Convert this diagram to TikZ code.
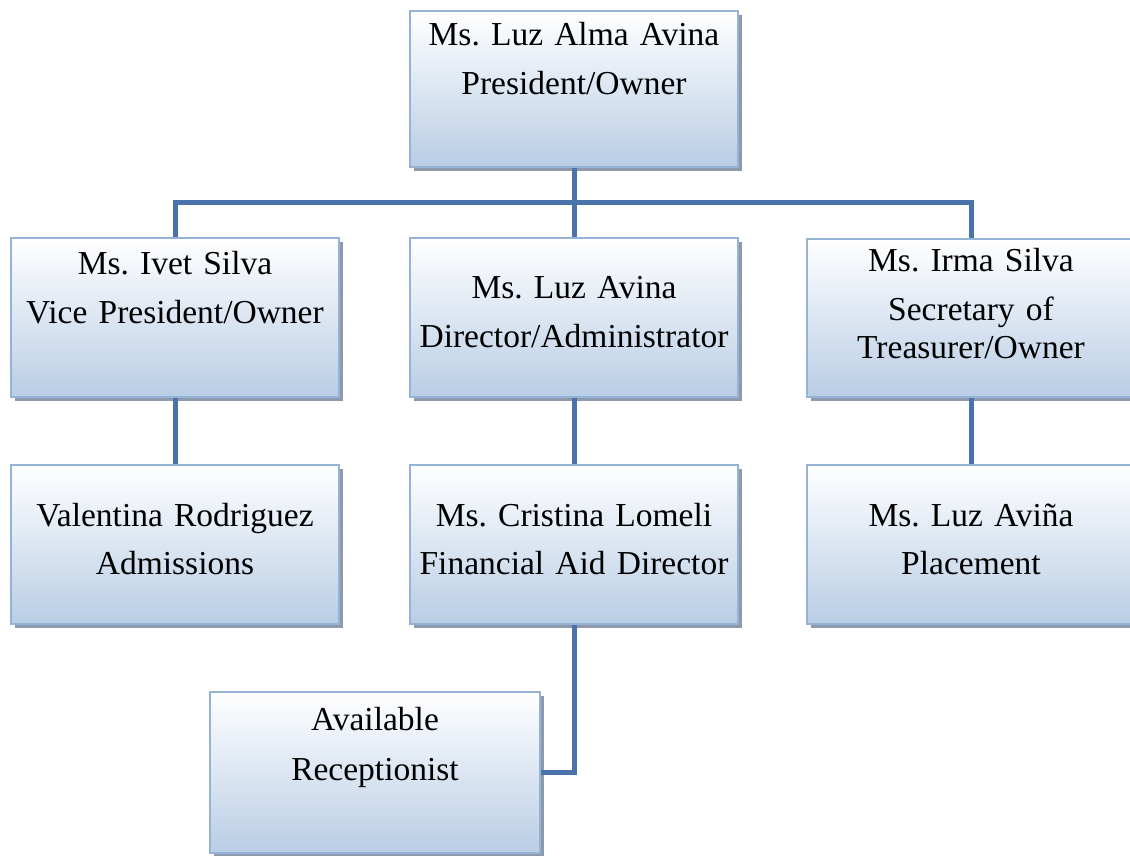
\documentclass[tikz,border=0pt]{standalone}
\usepackage{fontspec}
\setmainfont{Liberation Serif}
\usepackage{tikz}
\usetikzlibrary{shadows}
\definecolor{boxline}{RGB}{149,179,215}
\definecolor{boxfill}{RGB}{185,205,229}
\definecolor{boxshadow}{RGB}{142,154,171}
\definecolor{linkblue}{RGB}{73,115,170}
\tikzstyle{orgbox}=[draw=boxline, line width=2pt, top color=white, bottom color=boxfill, text width=328pt, align=center, inner sep=0pt, anchor=north west, font=\fontsize{33.5}{38}\selectfont\frenchspacing, drop shadow={shadow xshift=4pt, shadow yshift=-4pt, fill=boxshadow, opacity=1}]
\tikzstyle{orglink}=[draw=linkblue, line width=5pt]

\begin{document}
\begin{tikzpicture}[x=1pt, y=1pt]
    \useasboundingbox (0,0) rectangle (1130,-856);

    % owner on top
    \node[orgbox, text height=35pt, text depth=121pt] (pres) at (409,-10) {Ms. Luz Alma Avina\\[11pt]President/Owner};

    % second row
    \foreach \pos/\name/\bl/\rest/\label in {{(10,-237)/vp/36/123/{Ms. Ivet Silva\\[11pt]Vice President/Owner}}, {(409,-237)/dir/60/99/{Ms. Luz Avina\\[11pt]Director/Administrator}}, {(806,-238)/sec/32/126/{Ms. Irma Silva\\[11pt]Secretary of\\Treasurer/Owner}}}
        \node[orgbox, text height=\bl pt, text depth=\rest pt] (\name) at \pos {\label};

    % third row
    \foreach \pos/\name/\label in {{(10,-464)/adm/{Valentina Rodriguez\\[10pt]Admissions}}, {(409,-464)/fin/{Ms. Cristina Lomeli\\[10pt]Financial Aid Director}}, {(806,-464)/plc/{Ms. Luz Avi\~na\\[10pt]Placement}}}
        \node[orgbox, text height=61pt, text depth=98pt] (\name) at \pos {\label};

    \node[orgbox, text width=330pt, text height=38pt, text depth=123pt] (rec) at (209,-691) {Available\\[12pt]Receptionist};

    % connectors
    \coordinate (bus) at (573,-202);
    \draw[orglink] (pres.south) -- (dir.north);
    \draw[orglink] (vp.north) |- (bus) -| (sec.north);
    \foreach \up/\down in {vp/adm, dir/fin, sec/plc}
        \draw[orglink] (\up.south) -- (\down.north);
    \draw[orglink] (fin.south) |- (rec.east);
\end{tikzpicture}
\end{document}
